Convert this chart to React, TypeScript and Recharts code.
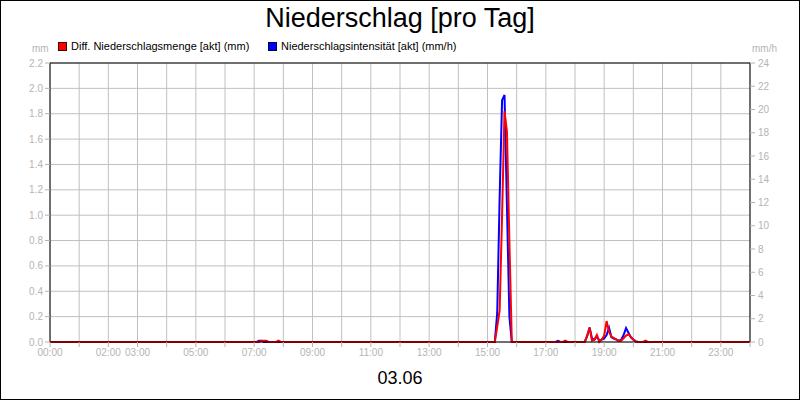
import React from "react";
import {
  LineChart,
  Line,
  XAxis,
  YAxis,
  CartesianGrid,
  ReferenceLine,
} from "recharts";

const title = "Niederschlag [pro Tag]";
const dateLabel = "03.06";
const seriesNames = [
  "Diff. Niederschlagsmenge [akt] (mm)",
  "Niederschlagsintensität [akt] (mm/h)",
];
const seriesColors = ["#ff0000", "#0000ff"];

const times = [
  "00:00", "07:05", "07:10", "07:15", "07:20", "07:25", "07:30", "07:45", "07:50", "07:55",
  "15:15", "15:20", "15:25", "15:30", "15:35", "15:40", "15:45", "15:50",
  "17:20", "17:25", "17:30", "17:35", "17:40", "17:45",
  "18:20", "18:25", "18:30", "18:35", "18:40", "18:45", "18:50", "18:55",
  "19:00", "19:05", "19:10", "19:15", "19:20", "19:25", "19:30", "19:35",
  "19:40", "19:45", "19:50", "19:55", "20:00", "20:05", "20:10",
  "20:20", "20:25", "20:30", "24:00",
];

const mengeMm = [
  0, 0, 0, 0.01, 0.01, 0.01, 0, 0, 0.01, 0,
  0, 0.12, 0.25, 1.0, 1.82, 1.66, 0.8, 0,
  0, 0, 0, 0, 0.01, 0,
  0, 0.05, 0.113, 0.01, 0.02, 0.055, 0, 0.02,
  0.05, 0.165, 0.08, 0.042, 0.03, 0.02, 0.01, 0.01,
  0.03, 0.05, 0.061, 0.04, 0.02, 0.005, 0,
  0, 0.01, 0, 0,
];

const intensMmH = [
  0, 0, 0.1, 0.1, 0, 0, 0, 0, 0, 0,
  0, 2.5, 12.5, 20.8, 21.25, 11.7, 2.2, 0,
  0, 0.1, 0, 0, 0, 0,
  0, 0.5, 1.25, 0.3, 0.2, 0.5, 0.1, 0.2,
  0.3, 0.6, 1.23, 0.4, 0.3, 0.2, 0.1, 0.2,
  0.6, 1.2, 0.8, 0.4, 0.2, 0.05, 0,
  0, 0, 0, 0,
];

const hourTicks = [
  "00:00", "01:00", "02:00", "03:00", "04:00", "05:00", "06:00", "07:00",
  "08:00", "09:00", "10:00", "11:00", "12:00", "13:00", "14:00", "15:00",
  "16:00", "17:00", "18:00", "19:00", "20:00", "21:00", "22:00", "23:00", "24:00",
];
const labeledTicks = [
  "00:00", "02:00", "03:00", "05:00", "07:00", "09:00", "11:00",
  "13:00", "15:00", "17:00", "19:00", "21:00", "23:00",
];
const leftTicks = [0, 0.2, 0.4, 0.6, 0.8, 1.0, 1.2, 1.4, 1.6, 1.8, 2.0, 2.2];
const rightTicks = [0, 2, 4, 6, 8, 10, 12, 14, 16, 18, 20, 22, 24];

const toMin = (t: string) => {
  const [h, m] = t.split(":").map(Number);
  return h * 60 + m;
};
const fmtMin = (v: number) => {
  const h = Math.floor(v / 60);
  const m = v % 60;
  return `${String(h).padStart(2, "0")}:${String(m).padStart(2, "0")}`;
};

const data = times.map((t, i) => ({
  t: toMin(t),
  menge: mengeMm[i],
  intens: intensMmH[i],
}));

const FONT = '"Liberation Sans", Arial, sans-serif';
const GRAY = "#b4b4b4";
const tickStyle = { fontFamily: FONT, fontSize: 10, fill: GRAY };

export default function App() {
  return (
    <div style={{ position: "relative", width: 800, height: 400, fontFamily: FONT, background: "#fff" }}>
      <style>{`body{margin:0}`}</style>
      <LineChart
        width={800}
        height={400}
        data={data}
        margin={{ top: 63, right: 0, bottom: 38, left: 0 }}
      >
        <CartesianGrid
          stroke="#c0c0c0"
          strokeWidth={1}
          xAxisId="x"
          yAxisId="left"
        />
        <XAxis
          xAxisId="x"
          dataKey="t"
          type="number"
          domain={[0, 1440]}
          ticks={hourTicks.map(toMin)}
          interval={0}
          tickFormatter={(v: number) => (labeledTicks.includes(fmtMin(v)) ? fmtMin(v) : "")}
          height={20}
          tickSize={5}
          tickMargin={2}
          tick={tickStyle}
          tickLine={{ stroke: GRAY }}
          axisLine={{ stroke: "#000" }}
        />
        <YAxis
          yAxisId="left"
          orientation="left"
          width={50}
          domain={[0, 2.2]}
          ticks={leftTicks}
          interval={0}
          tickFormatter={(v: number) => v.toFixed(1)}
          tickSize={5}
          tickMargin={2}
          tick={tickStyle}
          tickLine={{ stroke: GRAY }}
          axisLine={{ stroke: "#000" }}
        />
        <YAxis
          yAxisId="right"
          orientation="right"
          width={50}
          domain={[0, 24]}
          ticks={rightTicks}
          interval={0}
          tickSize={5}
          tickMargin={3}
          tick={tickStyle}
          tickLine={{ stroke: GRAY }}
          axisLine={{ stroke: "#000" }}
        />
        <ReferenceLine xAxisId="x" yAxisId="left" y={2.2} stroke="#000" strokeWidth={1} />
        <Line
          xAxisId="x"
          yAxisId="right"
          type="linear"
          dataKey="intens"
          stroke={seriesColors[1]}
          strokeWidth={2}
          dot={false}
          isAnimationActive={false}
        />
        <Line
          xAxisId="x"
          yAxisId="left"
          type="linear"
          dataKey="menge"
          stroke={seriesColors[0]}
          strokeWidth={2}
          dot={false}
          isAnimationActive={false}
        />
      </LineChart>

      <div style={{ position: "absolute", left: 0, top: 3, width: 800, textAlign: "center", fontSize: 27, color: "#000", lineHeight: "30px" }}>
        {title}
      </div>

      <div style={{ position: "absolute", left: 58, top: 40, display: "flex", alignItems: "center", fontSize: 11, color: "#000", lineHeight: "12px" }}>
        <span style={{ display: "inline-block", width: 7, height: 7, background: seriesColors[0], border: "1px solid #400", marginRight: 4 }} />
        <span>{seriesNames[0]}</span>
      </div>
      <div style={{ position: "absolute", left: 268, top: 40, display: "flex", alignItems: "center", fontSize: 11, color: "#000", lineHeight: "12px" }}>
        <span style={{ display: "inline-block", width: 7, height: 7, background: seriesColors[1], border: "1px solid #004", marginRight: 4 }} />
        <span>{seriesNames[1]}</span>
      </div>

      <div style={{ position: "absolute", left: 32, top: 43, fontSize: 10, color: GRAY, lineHeight: "12px" }}>mm</div>
      <div style={{ position: "absolute", left: 752, top: 43, fontSize: 10, color: GRAY, lineHeight: "12px" }}>mm/h</div>

      <div style={{ position: "absolute", left: 0, top: 368, width: 800, textAlign: "center", fontSize: 18, color: "#000", lineHeight: "20px" }}>
        {dateLabel}
      </div>

      <div style={{ position: "absolute", left: 0, top: 0, width: 800, height: 400, boxSizing: "border-box", border: "1px solid #000", pointerEvents: "none" }} />
    </div>
  );
}
